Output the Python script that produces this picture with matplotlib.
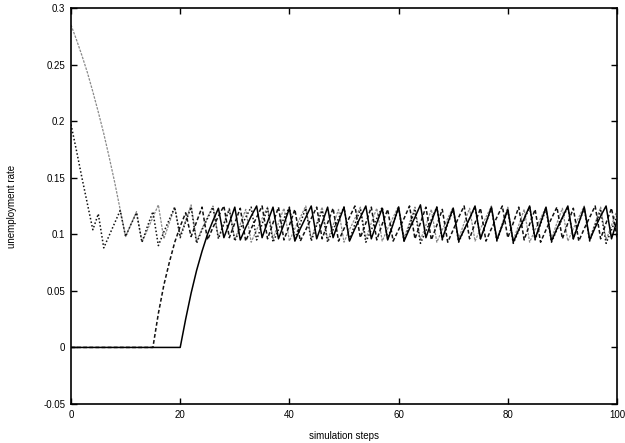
"""Tasa de desempleo frente a pasos de simulacion (cuatro corridas)."""

import numpy as np
import matplotlib

matplotlib.use("Agg")
import matplotlib.pyplot as plt

# Valores, un valor por paso (0..100).
solid_run = [
    0, 0, 0, 0, 0, 0, 0, 0, 0, 0,
    0, 0, 0, 0, 0, 0, 0, 0, 0, 0,
    0, 0.025, 0.048, 0.068, 0.085, 0.100, 0.112, 0.123, 0.097, 0.110,
    0.124, 0.095, 0.106, 0.116, 0.125, 0.097, 0.111, 0.124, 0.096, 0.109,
    0.123, 0.094, 0.105, 0.115, 0.125, 0.096, 0.110, 0.124, 0.097, 0.111,
    0.124, 0.094, 0.105, 0.115, 0.125, 0.096, 0.110, 0.123, 0.095, 0.109,
    0.124, 0.094, 0.105, 0.115, 0.126, 0.097, 0.111, 0.124, 0.096, 0.110,
    0.123, 0.094, 0.104, 0.114, 0.125, 0.096, 0.110, 0.124, 0.095, 0.108,
    0.122, 0.093, 0.104, 0.114, 0.125, 0.096, 0.110, 0.124, 0.094, 0.105,
    0.115, 0.125, 0.096, 0.110, 0.124, 0.095, 0.106, 0.116, 0.125, 0.096,
    0.112,
]

dashed_run = [
    0, 0, 0, 0, 0, 0, 0, 0, 0, 0,
    0, 0, 0, 0, 0, 0, 0.030, 0.055, 0.075, 0.093,
    0.107, 0.119, 0.098, 0.111, 0.124, 0.095, 0.106, 0.116, 0.125, 0.097,
    0.110, 0.123, 0.094, 0.105, 0.115, 0.125, 0.096, 0.110, 0.124, 0.095,
    0.108, 0.122, 0.094, 0.104, 0.114, 0.124, 0.096, 0.110, 0.123, 0.094,
    0.105, 0.115, 0.125, 0.097, 0.110, 0.124, 0.095, 0.109, 0.122, 0.094,
    0.104, 0.114, 0.125, 0.096, 0.110, 0.124, 0.095, 0.108, 0.122, 0.093,
    0.104, 0.115, 0.125, 0.096, 0.110, 0.123, 0.094, 0.105, 0.115, 0.125,
    0.097, 0.110, 0.124, 0.095, 0.109, 0.122, 0.093, 0.104, 0.114, 0.124,
    0.096, 0.110, 0.123, 0.094, 0.105, 0.115, 0.125, 0.096, 0.110, 0.123,
    0.097,
]

dotted_run = [
    0.197, 0.174, 0.150, 0.127, 0.104, 0.118, 0.088, 0.099, 0.110, 0.121,
    0.098, 0.109, 0.119, 0.093, 0.107, 0.120, 0.090, 0.102, 0.113, 0.124,
    0.097, 0.111, 0.124, 0.092, 0.104, 0.114, 0.124, 0.096, 0.109, 0.122,
    0.094, 0.105, 0.115, 0.124, 0.095, 0.109, 0.123, 0.093, 0.104, 0.114,
    0.124, 0.096, 0.110, 0.123, 0.094, 0.108, 0.121, 0.093, 0.104, 0.114,
    0.124, 0.095, 0.109, 0.122, 0.093, 0.104, 0.114, 0.124, 0.096, 0.110,
    0.123, 0.094, 0.108, 0.121, 0.092, 0.103, 0.113, 0.124, 0.095, 0.109,
    0.122, 0.093, 0.104, 0.114, 0.124, 0.096, 0.110, 0.123, 0.094, 0.108,
    0.121, 0.092, 0.103, 0.113, 0.124, 0.095, 0.109, 0.122, 0.093, 0.104,
    0.114, 0.124, 0.096, 0.110, 0.123, 0.094, 0.108, 0.121, 0.092, 0.104,
    0.116,
]

gray_run = [
    0.285, 0.272, 0.258, 0.243, 0.226, 0.208, 0.189, 0.168, 0.146, 0.122,
    0.098, 0.109, 0.120, 0.093, 0.104, 0.115, 0.126, 0.096, 0.110, 0.124,
    0.099, 0.112, 0.126, 0.094, 0.105, 0.115, 0.125, 0.097, 0.110, 0.123,
    0.095, 0.109, 0.122, 0.093, 0.104, 0.114, 0.124, 0.096, 0.110, 0.123,
    0.094, 0.105, 0.115, 0.125, 0.096, 0.110, 0.124, 0.095, 0.108, 0.122,
    0.093, 0.104, 0.114, 0.124, 0.096, 0.110, 0.123, 0.094, 0.105, 0.115,
    0.125, 0.097, 0.110, 0.124, 0.095, 0.108, 0.122, 0.093, 0.104, 0.114,
    0.124, 0.096, 0.110, 0.123, 0.094, 0.105, 0.115, 0.125, 0.096, 0.110,
    0.124, 0.095, 0.108, 0.122, 0.093, 0.104, 0.114, 0.124, 0.096, 0.110,
    0.123, 0.094, 0.105, 0.115, 0.125, 0.096, 0.110, 0.124, 0.095, 0.108,
    0.121,
]

x_ticks = [0, 20, 40, 60, 80, 100]
y_ticks = [-0.05, 0, 0.05, 0.1, 0.15, 0.2, 0.25, 0.3]
y_tick_labels = ["-0.05", "0", "0.05", "0.1", "0.15", "0.2", "0.25", "0.3"]

plt.rcParams["font.family"] = ["Liberation Sans", "DejaVu Sans"]

fig = plt.figure(figsize=(6.25, 4.43), dpi=100)
ax = fig.add_axes([71 / 625, 1 - 404 / 443, 546 / 625, 396 / 443])

# Gris primero para que las corridas negras queden encima.
ax.plot(np.arange(len(gray_run)), gray_run, color="#8a8a8a",
        lw=0.9, linestyle=(0, (2, 1)))
ax.plot(np.arange(len(dotted_run)), dotted_run, color="#111111",
        lw=1.1, linestyle=(0, (1, 1.4)))
ax.plot(np.arange(len(dashed_run)), dashed_run, color="#111111",
        lw=1.1, linestyle=(0, (2.5, 1.5)))
ax.plot(np.arange(len(solid_run)), solid_run, color="black", lw=1.1)

ax.set_xlim(0, 100)
ax.set_ylim(-0.05, 0.3)
ax.set_xticks(x_ticks)
ax.set_yticks(y_ticks)
ax.set_yticklabels(y_tick_labels)

ax.tick_params(direction="in", length=4, width=1, top=True, right=True,
               labelsize=7, pad=4)
for spine in ax.spines.values():
    spine.set_linewidth(1.2)

ax.set_xlabel("simulation steps", fontsize=7, labelpad=8)
ax.set_ylabel("unemployment rate", fontsize=7, labelpad=19)

fig.savefig("out.png", dpi=100)
